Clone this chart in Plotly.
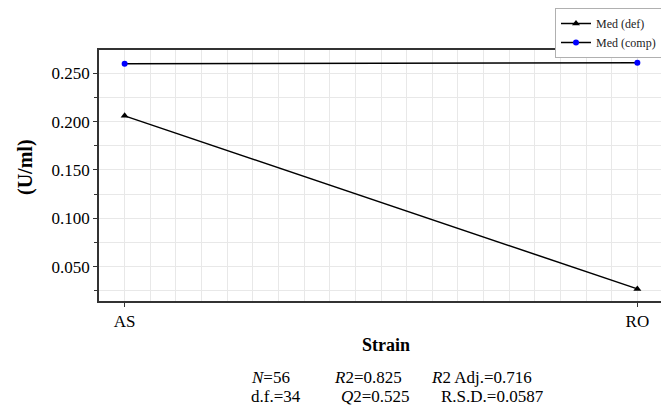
import plotly.graph_objects as go

categories = ["AS", "RO"]
med_def = [0.206, 0.027]
med_comp = [0.260, 0.261]
series_names = ["Med (def)", "Med (comp)"]
y_tick_vals = [0.050, 0.100, 0.150, 0.200, 0.250]
stats_line1 = ["<i>N</i>=56", "<i>R</i>2=0.825", "<i>R</i>2 Adj.=0.716"]
stats_line2 = ["d.f.=34", "<i>Q</i>2=0.525", "R.S.D.=0.0587"]

# page body has an 8px margin; size the figure so it fits the 669x409 window
OFF = 8
W, H = 669 - OFF, 409 - OFF
# plot area in window pixels: x 99..663, y 50..301
L, R, T, B = 99 - OFF, 669 - 663, 50 - OFF, 409 - 301
pw, ph = W - L - R, H - T - B

def px(x):
    return (x - OFF - L) / pw

def py(y):
    return (H - B - (y - OFF)) / ph

FONT = "Liberation Serif"
xs = list(range(len(categories)))

fig = go.Figure()
fig.add_trace(go.Scatter(
    x=xs, y=med_def, name=series_names[0], mode="lines+markers",
    line=dict(color="black", width=1.5),
    marker=dict(symbol="triangle-up", size=7, color="black"),
))
fig.add_trace(go.Scatter(
    x=xs, y=med_comp, name=series_names[1], mode="lines+markers",
    line=dict(color="black", width=1.5),
    marker=dict(symbol="circle", size=6, color="#0000ff"),
))

annotations = [
    dict(text="<b>(U/ml)</b>", x=px(25), y=py(167), textangle=-90,
         font=dict(size=20)),
    dict(text="<b>Strain</b>", x=px(386), y=py(345), font=dict(size=18)),
]
for txt, xp in zip(stats_line1, [249, 332, 429]):
    annotations.append(dict(text=txt, x=px(xp), y=py(377), xanchor="left",
                            font=dict(size=17)))
for txt, xp in zip(stats_line2, [249, 339, 439]):
    annotations.append(dict(text=txt, x=px(xp), y=py(396), xanchor="left",
                            font=dict(size=17)))
for a in annotations:
    a.update(xref="paper", yref="paper", showarrow=False)
    a.setdefault("xanchor", "center")
    a["yanchor"] = "middle"
    a["font"].update(family=FONT, color="black")

fig.update_layout(
    width=W, height=H,
    margin=dict(l=L, r=R, t=T, b=B, autoexpand=False),
    paper_bgcolor="white", plot_bgcolor="white",
    font=dict(family=FONT, color="black"),
    showlegend=True,
    legend=dict(x=px(555), y=py(8), xanchor="left", yanchor="top",
                font=dict(family=FONT, size=12, color="#222"),
                bordercolor="#b0b0b0", borderwidth=1, bgcolor="white",
                tracegroupgap=0, itemwidth=30),
    annotations=annotations,
    xaxis=dict(
        range=[-0.05, 1.05], tickmode="array", tickvals=xs, ticktext=categories,
        showgrid=True, gridcolor="#e8e8e8", gridwidth=1,
        minor=dict(tick0=0, dtick=0.05, showgrid=True, gridcolor="#e8e8e8",
                   ticks=""),
        showline=True, mirror=True, linecolor="#333", linewidth=1.5,
        ticks="outside", ticklen=4, tickcolor="#333",
        tickfont=dict(family=FONT, size=17, color="black"),
        zeroline=False,
    ),
    yaxis=dict(
        range=[0.0145, 0.2741], tickmode="array", tickvals=y_tick_vals,
        tickformat=".3f",
        showgrid=True, gridcolor="#e8e8e8", gridwidth=1,
        minor=dict(tick0=0, dtick=0.025, showgrid=True, gridcolor="#e8e8e8",
                   ticks="outside", ticklen=3, tickcolor="#333"),
        showline=True, mirror=True, linecolor="#333", linewidth=1.5,
        ticks="outside", ticklen=4, tickcolor="#333",
        tickfont=dict(family=FONT, size=17, color="black"),
        zeroline=False,
    ),
)

fig.write_html("out.html")
